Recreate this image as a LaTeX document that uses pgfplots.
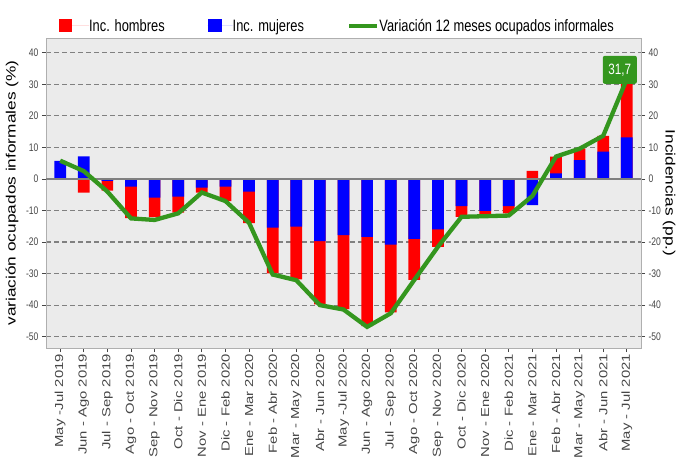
\documentclass[border=0pt]{standalone}
\usepackage{pgfplots}
\pgfplotsset{compat=1.18}
\usepackage{pgfplotstable}
\usepackage{fontspec}
\setmainfont{Liberation Sans}
\newfontfamily\fnarrow[FakeStretch=0.78]{Liberation Sans}
\newfontfamily\fstretch[FakeStretch=1.28]{Liberation Sans}
\definecolor{cred}{RGB}{255,0,0}
\definecolor{cblue}{RGB}{0,0,255}
\definecolor{cgreen}{RGB}{52,150,30}
\definecolor{lgreen}{RGB}{20,135,20}
\definecolor{bg}{RGB}{235,235,235}
\definecolor{gridc}{RGB}{128,128,128}
\definecolor{framec}{RGB}{175,175,175}
\definecolor{tickc}{RGB}{70,70,70}

\pgfplotstableread{
x b r v
0 5.7 0.0 5.8
1 7.2 -4.3 2.5
2 -0.6 -3.1 -4.0
3 -2.4 -10.0 -12.5
4 -5.9 -6.2 -13.0
5 -5.6 -5.1 -10.9
6 -2.75 -1.6 -4.3
7 -2.4 -4.6 -7.0
8 -4.0 -10.0 -13.9
9 -15.4 -14.5 -30.3
10 -15.1 -16.7 -32.1
11 -19.7 -20.1 -40.0
12 -17.8 -23.5 -41.4
13 -18.4 -28.3 -46.9
14 -20.8 -21.5 -42.6
15 -19.0 -13.0 -32.0
16 -16.0 -5.5 -21.5
17 -8.6 -3.4 -12.0
18 -10.1 -1.3 -11.8
19 -8.6 -2.3 -11.6
20 -8.3 2.6 -5.4
21 1.8 5.3 7.1
22 6.0 3.7 9.6
23 8.7 5.0 13.7
24 13.2 18.5 31.7
}\data

\begin{document}
\begin{tikzpicture}
\path[use as bounding box] (-46pt,-112pt) rectangle (630pt,348pt);
\begin{axis}[
  width=595pt, height=310pt, scale only axis,
  xmin=-0.6, xmax=24.6, ymin=-53.6, ymax=44.7,
  axis background/.style={fill=bg},
  axis line style={framec, line width=0.9pt},
  ybar,
  xtick={0,...,24},
  xticklabels={May -Jul 2019, Jun - Ago 2019, Jul - Sep 2019, Ago - Oct 2019, Sep - Nov 2019, Oct - Dic 2019, Nov - Ene 2019, Dic - Feb 2020, Ene - Mar 2020, Feb - Abr 2020, Mar - May 2020, Abr - Jun 2020, May -Jul 2020, Jun - Ago 2020, Jul - Sep 2020, Ago - Oct 2020, Sep - Nov 2020, Oct - Dic 2020, Nov - Ene 2020, Dic - Feb 2021, Ene - Mar 2021, Feb - Abr 2021, Mar - May 2021, Abr - Jun 2021, May - Jul 2021},
  xtick pos=left, ytick pos=left,
  tick align=outside,
  major tick length=4pt,
  every tick/.style={tickc, line width=0.8pt},
  ytick={-50,-40,...,40},
  ymajorgrids,
  major grid style={gridc, dash pattern=on 4.5pt off 3.5pt, line width=1.1pt},
  /pgf/number format/assume math mode=true,
  yticklabel style={font=\fnarrow\fontsize{11}{11}\selectfont, text=tickc},
  x tick label style={font=\fstretch\fontsize{11.6}{12}\selectfont, text=tickc, rotate=90, anchor=east, inner sep=2pt},
  every axis y label/.style={at={(axis description cs:0,0.5)}, anchor=center, xshift=-34pt, rotate=90},
  ylabel={\fstretch\fontsize{13.5}{14}\selectfont variación ocupados informales (\%)},
  legend columns=3,
  legend style={at={(axis description cs:0.5,1)}, anchor=south, xshift=-7pt, yshift=3pt,
    draw=none, fill=none, font=\fnarrow\fontsize{16.5}{17}\selectfont,
    nodes={inner sep=0pt},
    /tikz/every even column/.append style={column sep=43pt}},
]
\addplot[bar shift=0pt, bar width=11.7pt, fill=cred, draw=none,
  legend image code/.code={\fill[cred] (0pt,-6.5pt) rectangle (12.5pt,6.5pt); \path (0pt,0pt) -- (30pt,0pt);}]
  table[x=x, y expr={\thisrow{r}+((\thisrow{b}*\thisrow{r}>0)?\thisrow{b}:0)}] {\data};
\addlegendentry{Inc. hombres}
\addplot[bar shift=0pt, bar width=11.7pt, fill=cblue, draw=none,
  legend image code/.code={\fill[cblue] (0pt,-6.5pt) rectangle (14pt,6.5pt); \path (0pt,0pt) -- (25pt,0pt);}]
  table[x=x, y=b] {\data};
\addlegendentry{Inc. mujeres}
\addplot[sharp plot, gridc, line width=2pt, forget plot] coordinates {(-0.6,0) (24.6,0)};
\addplot[sharp plot, cgreen, line width=4.3pt, no marks,
  legend image code/.code={\draw[lgreen, line width=4.5pt] (0pt,0pt) -- (19pt,0pt); \path (0pt,0pt) -- (28pt,0pt);}]
  table[x=x, y=v] {\data};
\addlegendentry{Variación 12 meses ocupados informales}
\node[fill=cgreen, text=white, rounded corners=2pt, anchor=south, xshift=-7pt, yshift=-5pt,
  minimum width=34pt, minimum height=28pt, inner sep=0pt,
  font=\fnarrow\fontsize{15}{15}\selectfont] at (axis cs:24,31.7) {31,7};
\end{axis}
\begin{axis}[
  width=595pt, height=310pt, scale only axis,
  xmin=-0.6, xmax=24.6, ymin=-53.6, ymax=44.7,
  axis y line*=right, axis x line=none,
  axis line style={framec, line width=0.9pt},
  tick align=outside,
  major tick length=4pt,
  every tick/.style={tickc, line width=0.8pt},
  ytick={-50,-40,...,40},
  /pgf/number format/assume math mode=true,
  yticklabel style={font=\fnarrow\fontsize{11}{11}\selectfont, text=tickc},
  every axis y label/.style={at={(axis description cs:1,0.5)}, anchor=center, xshift=28pt, rotate=-90},
  ylabel={\fstretch\fontsize{13.5}{14}\selectfont Incidencias (pp.)},
]
\end{axis}
\end{tikzpicture}
\end{document}
